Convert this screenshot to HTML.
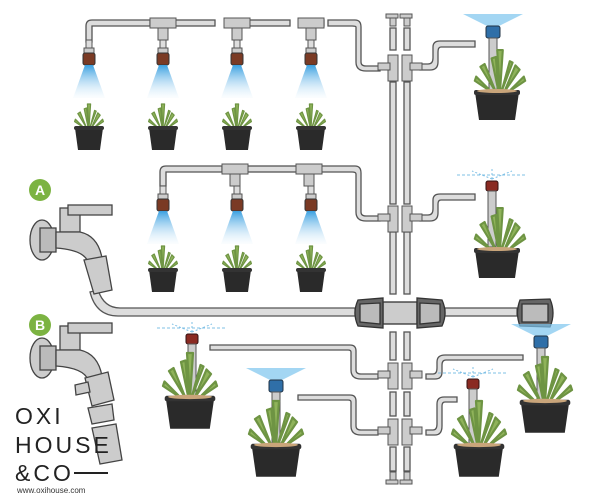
<!DOCTYPE html>
<html><head><style>
html,body{margin:0;padding:0;background:#fff;}
svg{display:block}
</style></head><body>
<svg width="600" height="497" viewBox="0 0 600 497" xmlns="http://www.w3.org/2000/svg" font-family="Liberation Sans, sans-serif">
<defs>
<linearGradient id="spray" x1="0" y1="0" x2="0" y2="1">
<stop offset="0" stop-color="#3aa0e0"/><stop offset="1" stop-color="#e8f4fc" stop-opacity="0.2"/>
</linearGradient>
<g id="pot">
<path d="M-22,0 L22,0 L18,28 L-18,28 Z" fill="#2a2a2a"/>
<rect x="-23" y="-2" width="46" height="5" rx="2" fill="#333"/>
<ellipse cx="0" cy="-1" rx="20" ry="2" fill="#c9a57a"/>
</g>
<g id="cact">
<path d="M0,0 L-2,-30 L2,-30 Z M-3,0 L-14,-18 L-11,-20 Z M3,0 L14,-16 L11,-19 Z M-6,0 L-18,-8 L-17,-11 Z M6,0 L18,-8 L17,-11 Z M-1,0 L-6,-24 L-3,-25 Z M1,0 L7,-22 L9,-21 Z" fill="#8fb35a" stroke="#6e9443" stroke-width="1.5" stroke-linejoin="round"/>
</g>
<g id="smallplant">
<use href="#cact" transform="translate(0,0) scale(0.8)"/>
<path d="M-14,0 L14,0 L11,22 L-11,22 Z" fill="#2a2a2a"/>
<rect x="-15" y="-2" width="30" height="4" rx="2" fill="#333"/>
</g>
<g id="nozzle">
<rect x="-3" y="0" width="6" height="8" fill="#ddd" stroke="#555"/>
<rect x="-5" y="8" width="10" height="5" fill="#ccc" stroke="#555"/>
<rect x="-6" y="13" width="12" height="12" rx="2" fill="#7a3a24" stroke="#333"/>
<path d="M-4,25 L4,25 L16,58 L-16,58 Z" fill="url(#spray)"/>
</g>
<g id="blueR">
<path d="M-30,-14 L30,-14 L6,-2 L-6,-2 Z" fill="#7cc4ee" opacity="0.7"/>
<rect x="-7" y="-2" width="14" height="12" rx="2" fill="#2f6fa8" stroke="#234"/>
<rect x="-4" y="10" width="8" height="56" fill="#ccc" stroke="#555"/>
</g>
<g id="redR">
<path d="M-35,-10 L35,-10" stroke="#7fc0e6" stroke-dasharray="3 2"/>
<path d="M0,-6 L-20,-14 M0,-6 L20,-14 M0,-6 L0,-16" stroke="#7fc0e6" stroke-dasharray="2 2"/>
<rect x="-6" y="-4" width="12" height="10" rx="2" fill="#8a2a22" stroke="#311"/>
<rect x="-4" y="6" width="8" height="56" fill="#ccc" stroke="#555"/>
</g>
<g id="faucet" fill="#ccc" stroke="#444" stroke-width="1.3">
<ellipse cx="42" cy="240" rx="12" ry="20"/>
<rect x="40" y="228" width="16" height="24" fill="#bbb"/>
<rect x="60" y="208" width="20" height="24"/>
<rect x="68" y="205" width="44" height="10"/>
<path d="M56,232 L80,232 Q98,236 102,258 L88,262 Q84,250 56,248 Z"/>
</g>
<g id="tees">
<rect x="388" y="55" width="10" height="26"/><rect x="402" y="55" width="10" height="26"/>
<rect x="378" y="63" width="12" height="7"/><rect x="410" y="63" width="12" height="7"/>
</g>
</defs>

<g fill="#ddd" stroke="#555" stroke-width="1.3" fill-rule="evenodd">
<path d="M86,42 L86,26 Q86,20 92,20 L150,20 L150,26 L92,26 L92,42 Z"/>
<rect x="155" y="20" width="60" height="6"/>
<rect x="228" y="20" width="62" height="6"/>
<rect x="302" y="20" width="22" height="6"/>
<path d="M328,20 L355,20 Q361,20 361,27 L361,62 Q361,66 366,66 L380,66 L380,71 L366,71 Q356,71 356,62 L356,27 Q356,26 352,26 L328,26 Z"/>
<path d="M160,186 L160,172 Q160,166 166,166 L222,166 L222,172 L166,172 L166,186 Z"/>
<rect x="245" y="166" width="60" height="6"/>
<path d="M318,166 L355,166 Q361,166 361,173 L361,212 Q361,216 366,216 L380,216 L380,221 L366,221 Q356,221 356,212 L356,174 Q356,172 352,172 L318,172 Z"/>
<path d="M420,64 L428,64 Q433,64 433,58 L433,47 Q433,41 440,41 L475,41 L475,47 L441,47 Q438,47 438,52 L438,62 Q438,70 430,70 L420,70 Z"/>
<path d="M420,215 L428,215 Q433,215 433,209 L433,200 Q433,194 440,194 L475,194 L475,200 L441,200 Q438,200 438,204 L438,213 Q438,221 430,221 L420,221 Z"/>
<rect x="390" y="28" width="6" height="22"/><rect x="404" y="28" width="6" height="22"/>
<rect x="390" y="82" width="6" height="122"/><rect x="404" y="82" width="6" height="122"/>
<rect x="390" y="232" width="6" height="62"/><rect x="404" y="232" width="6" height="62"/>
<rect x="390" y="332" width="6" height="28"/><rect x="404" y="332" width="6" height="28"/>
<rect x="390" y="392" width="6" height="24"/><rect x="404" y="392" width="6" height="24"/>
<rect x="390" y="447" width="6" height="24"/><rect x="404" y="447" width="6" height="24"/>
<path d="M98,290 Q104,308 120,308 L355,308 L355,316 L118,316 Q96,316 90,292 Z"/>
<rect x="445" y="308" width="72" height="8"/>
<path d="M210,345 L350,345 Q356,345 356,351 L356,370 Q356,374 361,374 L378,374 L378,379 L361,379 Q351,379 351,370 L351,352 Q351,350 348,350 L210,350 Z"/>
<path d="M298,395 L350,395 Q356,395 356,401 L356,426 Q356,430 361,430 L378,430 L378,435 L361,435 Q351,435 351,426 L351,402 Q351,400 348,400 L298,400 Z"/>
<path d="M426,374 L433,374 Q437,374 437,368 L437,362 Q437,355 445,355 L523,355 L523,360 L446,360 Q442,360 442,365 L442,372 Q442,379 435,379 L426,379 Z"/>
<path d="M426,430 L433,430 Q437,430 437,424 L437,404 Q437,397 444,397 L457,397 L457,402 L445,402 Q442,402 442,406 L442,426 Q442,435 435,435 L426,435 Z"/>
</g>

<g fill="#ccc" stroke="#555" stroke-width="1">
<use href="#tees"/>
<use href="#tees" transform="translate(0,151)"/>
<use href="#tees" transform="translate(0,308)"/>
<use href="#tees" transform="translate(0,364)"/>
<rect x="386" y="14" width="12" height="4"/><rect x="400" y="14" width="12" height="4"/>
<rect x="390" y="18" width="6" height="8"/><rect x="404" y="18" width="6" height="8"/>
<rect x="386" y="480" width="12" height="4"/><rect x="400" y="480" width="12" height="4"/>
<rect x="390" y="472" width="6" height="8"/><rect x="404" y="472" width="6" height="8"/>
<rect x="150" y="18" width="26" height="10"/><rect x="158" y="28" width="10" height="12"/>
<rect x="224" y="18" width="26" height="10"/><rect x="232" y="28" width="10" height="12"/>
<rect x="298" y="18" width="26" height="10"/><rect x="306" y="28" width="10" height="12"/>
<rect x="222" y="164" width="26" height="10"/><rect x="230" y="174" width="10" height="12"/>
<rect x="296" y="164" width="26" height="10"/><rect x="304" y="174" width="10" height="12"/>
</g>

<g stroke="#333" stroke-width="1.3">
<rect x="383" y="302" width="34" height="22" fill="#ccc"/>
<path d="M358,300 L383,298 L383,328 L358,326 Q352,313 358,300 Z" fill="#666"/>
<path d="M360,304 L380,303 L380,324 L360,322 Z" fill="#bbb"/>
<path d="M442,300 L417,298 L417,328 L442,326 Q448,313 442,300 Z" fill="#666"/>
<path d="M440,304 L420,303 L420,324 L440,322 Z" fill="#bbb"/>
<path d="M520,300 L550,299 Q556,313 550,327 L520,326 Q515,313 520,300 Z" fill="#666"/>
<path d="M522,304 L548,304 L548,322 L522,322 Z" fill="#bbb"/>
</g>

<use href="#nozzle" transform="translate(89,40)"/>
<use href="#nozzle" transform="translate(163,40)"/>
<use href="#nozzle" transform="translate(237,40)"/>
<use href="#nozzle" transform="translate(311,40)"/>
<use href="#smallplant" transform="translate(89,128)"/>
<use href="#smallplant" transform="translate(163,128)"/>
<use href="#smallplant" transform="translate(237,128)"/>
<use href="#smallplant" transform="translate(311,128)"/>
<use href="#nozzle" transform="translate(163,186)"/>
<use href="#nozzle" transform="translate(237,186)"/>
<use href="#nozzle" transform="translate(311,186)"/>
<use href="#smallplant" transform="translate(163,270)"/>
<use href="#smallplant" transform="translate(237,270)"/>
<use href="#smallplant" transform="translate(311,270)"/>

<use href="#blueR" transform="translate(493,28)"/>
<use href="#cact" transform="translate(500,92) scale(1.4)"/>
<use href="#pot" transform="translate(497,92)"/>

<use href="#redR" transform="translate(492,185)"/>
<use href="#cact" transform="translate(500,250) scale(1.4)"/>
<use href="#pot" transform="translate(497,250)"/>

<use href="#redR" transform="translate(192,338)"/>
<use href="#cact" transform="translate(190,398) scale(1.5)"/>
<use href="#pot" transform="translate(190,398) scale(1.1)"/>

<use href="#blueR" transform="translate(276,382)"/>
<use href="#cact" transform="translate(276,446) scale(1.5)"/>
<use href="#pot" transform="translate(276,446) scale(1.1)"/>

<use href="#redR" transform="translate(473,383)"/>
<use href="#cact" transform="translate(479,446) scale(1.5)"/>
<use href="#pot" transform="translate(479,446) scale(1.1)"/>

<use href="#blueR" transform="translate(541,338)"/>
<use href="#cact" transform="translate(545,402) scale(1.5)"/>
<use href="#pot" transform="translate(545,402) scale(1.1)"/>

<use href="#faucet"/>
<g fill="#ccc" stroke="#444" stroke-width="1.3">
<path d="M84,260 L106,256 L112,290 L94,294 Z"/>
<use href="#faucet" transform="translate(0,118)"/>
<path d="M85,378 L108,372 L114,400 L92,406 Z"/>
<path d="M88,408 L112,404 L114,420 L92,424 Z"/>
<path d="M92,428 L116,424 L122,460 L100,464 Z"/>
<path d="M75,385 L88,382 L90,392 L76,395 Z"/>
</g>

<circle cx="40" cy="190" r="11" fill="#7cb342"/>
<text x="40" y="195" text-anchor="middle" font-size="14" font-weight="bold" fill="#fff">A</text>
<circle cx="40" cy="325" r="11" fill="#7cb342"/>
<text x="40" y="330" text-anchor="middle" font-size="14" font-weight="bold" fill="#fff">B</text>

<g fill="#222" font-size="23" letter-spacing="3">
<text x="15" y="424">OXI</text>
<text x="15" y="453">HOUSE</text>
<text x="15" y="481">&amp;CO</text>
</g>
<line x1="74" y1="473" x2="108" y2="473" stroke="#222" stroke-width="2"/>
<text x="17" y="493" font-size="8" fill="#333">www.oxihouse.com</text>
</svg>
</body></html>
